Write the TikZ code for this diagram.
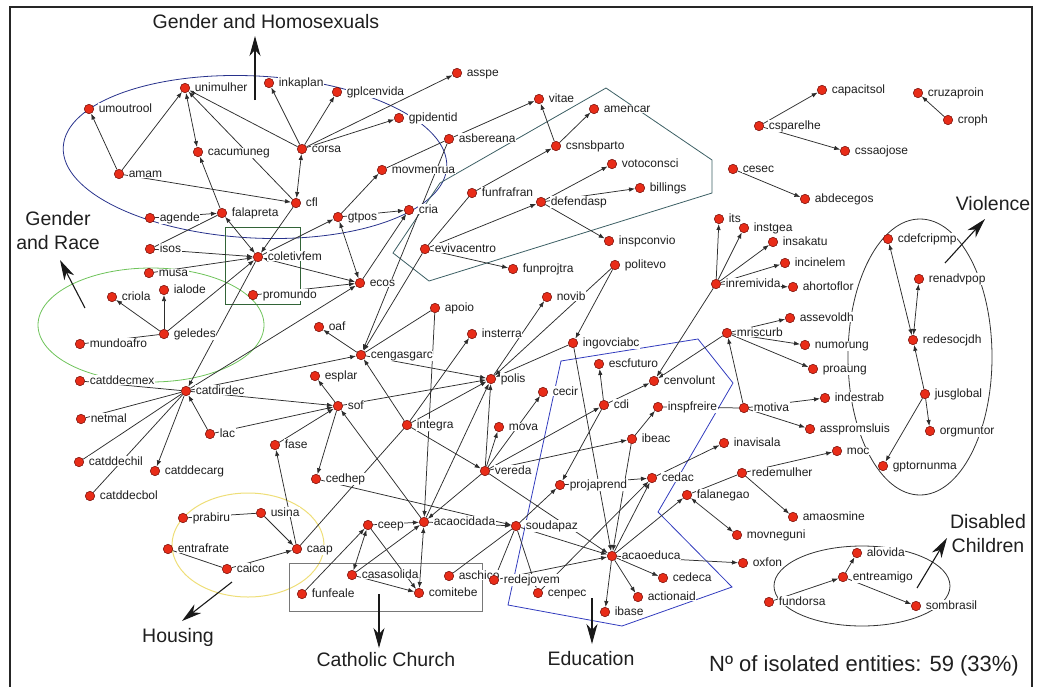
\documentclass[tikz,border=0pt]{standalone}
\usepackage{fontspec}
\setmainfont{Liberation Sans}
\usetikzlibrary{arrows.meta}
\pgfdeclarelayer{bg}
\pgfdeclarelayer{edges}
\pgfdeclarelayer{labels}
\pgfsetlayers{bg,edges,labels,main}
\definecolor{dotred}{RGB}{232,44,24}
\definecolor{dotrim}{RGB}{110,10,5}
\definecolor{edgecol}{RGB}{45,45,45}
\definecolor{ghblue}{RGB}{40,50,140}
\definecolor{edublue}{RGB}{50,60,190}
\definecolor{racegreen}{RGB}{110,195,90}
\definecolor{boxgreen}{RGB}{50,100,55}
\definecolor{houseyellow}{RGB}{238,222,120}
\definecolor{churchgray}{RGB}{120,120,120}
\definecolor{hexteal}{RGB}{60,95,100}
\definecolor{ringgray}{RGB}{50,50,50}
\tikzset{
  dot/.style={circle,fill=dotred,draw=dotrim,line width=0.5pt,minimum size=9.5pt,inner sep=0pt},
  lab/.style={anchor=base west,font=\fontsize{12}{12}\selectfont,inner sep=0.6pt,fill=white,text=black!88},
  ed/.style={draw=edgecol,line width=0.75pt},
  ar/.style={ed,-{Latex[length=6pt,width=4.5pt]}},
  bi/.style={ed,{Latex[length=6pt,width=4.5pt]}-{Latex[length=6pt,width=4.5pt]}},
  big/.style={draw=black!90,line width=1.1pt,-{Stealth[length=20pt,width=11pt,inset=6pt]}},
  cat/.style={font=\fontsize{19.5}{24}\selectfont,align=center,text=black!88,inner sep=0pt},
  ring/.style={line width=0.8pt},
}
\begin{document}
\begin{tikzpicture}[x=1pt,y=-1pt]
\useasboundingbox (0,0) rectangle (1039,686);
% frame
\draw[line width=1.2pt,black!85] (10,690) -- (10,7) -- (1032,7) -- (1032,690);

% dots
\foreach \n/\x/\y in {
umoutrool/89/109, unimulher/185/88, inkaplan/269/83, gplcenvida/337/92, asspe/457/73,
gpidentid/399/118, corsa/302/149, cacumuneg/198/152, amam/119/174, cfl/296/203,
agende/150/218, falapreta/222/213, asbereana/449/139, vitae/539/99, amencar/594/109,
csnsbparto/556/146, movmenrua/382/170, votoconsci/612/164, billings/640/188,
funfrafran/472/193, defendasp/541/202, gtpos/338/217, cria/409/210,
capacitsol/822/90, cruzaproin/918/93, croph/948/120, csparelhe/759/126,
cssaojose/845/151, cesec/733/169, abdecegos/805/199, its/719/219, instgea/744/228,
insakatu/773/242, incinelem/785/263, inremivida/716/284, ahortoflor/793/287,
cdefcripmp/888/239, renadvpop/919/279, redesocjdh/913/340, jusglobal/925/394,
orgmuntor/930/431, gptornunma/883/466, assevoldh/790/318, mriscurb/727/333,
numorung/805/345, proaung/813/369, motiva/744/408, indestrab/825/398,
asspromsluis/810/429, inavisala/724/443, moc/837/451, redemulher/742/473,
falanegao/687/495, amaosmine/793/517, movneguni/737/535, oxfon/743/563,
alovida/857/553, entreamigo/843/577, fundorsa/769/602, sombrasil/916/606,
coletivfem/258/257, isos/150/249, musa/149/273, promundo/253/295, ecos/360/283,
evivacentro/425/249, funprojtra/513/269, inspconvio/609/241, politevo/615/265,
novib/547/297, apoio/435/308, criola/112/297, ialode/164/290, geledes/164/334,
mundoafro/80/344, oaf/319/327, insterra/472/334, cengasgarc/361/355,
ingovciabc/573/343, escfuturo/599/364, polis/491/379, cecir/543/392,
cenvolunt/654/381, catddecmex/80/381, catdirdec/186/391, esplar/315/376,
sof/338/406, netmal/81/419, lac/210/434, integra/407/425, cdi/604/405,
inspfreire/658/407, mova/499/427, fase/275/445, ibeac/632/439,
catddechil/79/462, catddecarg/155/471, vereda/485/471, cedhep/316/479,
projaprend/560/485, cedac/652/478, catddecbol/90/496, prabiru/183/518,
usina/261/513, entrafrate/168/549, caico/227/569, caap/297/549, ceep/368/525,
acaocidada/424/522, soudapaz/516/526, acaoeduca/612/556, cedeca/663/578,
actionaid/638/597, ibase/605/612, casasolida/352/575, funfeale/302/594,
aschico/449/576, redejovem/494/580, comitebe/419/593, cenpec/538/593}
{ \node[dot] (\n) at (\x,\y) {};
  \begin{pgfonlayer}{labels}
  \node[lab] (\n-l) at ([xshift=9pt,yshift=-3pt]\n.center) {\n};
  \end{pgfonlayer} }

% group outlines
\begin{pgfonlayer}{bg}
\draw[ring,ghblue,rotate around={-3:(255,157)}] (255,157) ellipse [x radius=192,y radius=81];
\draw[ring,racegreen] (151,325) ellipse [x radius=113,y radius=57];
\draw[ring,boxgreen] (225,227) rectangle (300,304);
\draw[ring,houseyellow,line width=1pt] (248,545) ellipse [x radius=76,y radius=52];
\draw[ring,churchgray] (289,563) rectangle (482,611);
\draw[ring,ringgray] (920,357) ellipse [x radius=72,y radius=138];
\draw[ring,ringgray] (862,586) ellipse [x radius=88,y radius=40];
\draw[ring,hexteal] (606,88) -- (712,160) -- (712,193) -- (429,281) -- (393,253) -- (440,183) -- cycle;
\draw[ring,edublue] (561,361) -- (698,339) -- (733,383) -- (658,512) -- (732,587) -- (622,626) -- (508,605) -- cycle;
\end{pgfonlayer}

% connectors
\begin{pgfonlayer}{edges}
\foreach \s/\t in {
amam/umoutrool, amam/unimulher, corsa/unimulher, cfl/unimulher, corsa/inkaplan,
corsa/gplcenvida, amam/cfl, falapreta/cacumuneg, agende/falapreta, corsa/asspe,
corsa/gpidentid, asbereana/vitae, csnsbparto/vitae, csnsbparto/amencar,
funfrafran/csnsbparto, defendasp/votoconsci, defendasp/billings,
evivacentro/defendasp, defendasp/inspconvio, evivacentro/funprojtra,
evivacentro/cengasgarc, asbereana/cengasgarc, cfl/coletivfem, isos/coletivfem,
musa/coletivfem, geledes/coletivfem, coletivfem/catdirdec, promundo/ecos,
coletivfem/gtpos, gtpos/movmenrua, gtpos/cria, ecos/cria, catdirdec/ecos,
cengasgarc/oaf, apoio/acaocidada, catdirdec/cengasgarc, cengasgarc/polis,
integra/cengasgarc, integra/insterra, integra/vereda, vereda/acaoeduca,
sof/esplar, catdirdec/sof, lac/sof, fase/sof, lac/catdirdec, sof/polis,
sof/cedhep, acaocidada/sof, cedhep/soudapaz, vereda/acaocidada,
acaocidada/polis, vereda/polis, integra/polis, vereda/mova, vereda/cecir,
polis/novib, politevo/polis, politevo/ingovciabc, ingovciabc/polis,
ingovciabc/acaoeduca, cdi/escfuturo, cdi/cenvolunt, inremivida/cenvolunt,
mriscurb/cenvolunt, ibeac/inspfreire, vereda/ibeac, vereda/cdi, cdi/projaprend,
ibeac/acaoeduca, projaprend/cedac, cedac/inavisala, acaoeduca/cedac,
cenpec/cedac, acaoeduca/cedeca, acaoeduca/actionaid, acaoeduca/ibase,
acaoeduca/oxfon, soudapaz/acaoeduca, soudapaz/projaprend, soudapaz/cenpec,
redejovem/acaoeduca, acaoeduca/falanegao, redemulher/amaosmine, redemulher/moc,
mriscurb/numorung, mriscurb/proaung, mriscurb/assevoldh, motiva/mriscurb,
motiva/indestrab, motiva/asspromsluis, inremivida/its, inremivida/instgea,
inremivida/insakatu, inremivida/incinelem, inremivida/ahortoflor,
jusglobal/redesocjdh, jusglobal/orgmuntor, jusglobal/gptornunma,
csparelhe/capacitsol, csparelhe/cssaojose, croph/cruzaproin, cesec/abdecegos,
entreamigo/alovida, entreamigo/sombrasil, fundorsa/entreamigo, geledes/criola,
geledes/ialode, catdirdec/catddecarg, caap/fase, usina/caap, caico/caap,
casasolida/acaocidada, funfeale/ceep, ceep/acaocidada, casasolida/comitebe,
ceep/comitebe, acaocidada/soudapaz}
{ \draw[ar] (\s) -- (\t); }
\foreach \s/\t in {
unimulher/cacumuneg, cfl/corsa, falapreta/coletivfem, ecos/coletivfem,
gtpos/ecos, falanegao/movneguni, cdefcripmp/redesocjdh, renadvpop/redesocjdh,
casasolida/ceep, acaocidada/comitebe}
{ \draw[bi] (\s) -- (\t); }
\foreach \s/\t in {
movmenrua/asbereana, funfrafran/evivacentro, isos/falapreta, apoio/cengasgarc,
motiva/inspfreire, soudapaz/aschico, soudapaz/redejovem, redemulher/falanegao,
mundoafro/geledes, catddecmex/catdirdec, netmal/catdirdec, catdirdec/catddechil,
catdirdec/catddecbol, prabiru/usina, entrafrate/caico, caap/integra}
{ \draw[ed] (\s) -- (\t); }
\end{pgfonlayer}

% category labels and arrows
\node[cat] (catgh) at (266,22) {Gender and Homosexuals};
\coordinate (ghs) at (255,100); \coordinate (ght) at (255,36);
\draw[big] (ghs) -- (ght);
\node[cat] (catgr) at (58,231) {Gender\\and Race};
\coordinate (grs) at (85,308); \coordinate (grt) at (60,260);
\draw[big] (grs) -- (grt);
\node[cat] (catvi) at (993,204) {Violence};
\coordinate (vis) at (945,263); \coordinate (vit) at (985,219);
\draw[big] (vis) -- (vit);
\node[cat] (catho) at (178,637) {Housing};
\coordinate (hos) at (232,582); \coordinate (hot) at (182,621);
\draw[big] (hos) -- (hot);
\node[cat] (catcc) at (386,660) {Catholic Church};
\coordinate (ccs) at (379,594); \coordinate (cct) at (379,648);
\draw[big] (ccs) -- (cct);
\node[cat] (catedu) at (591,659) {Education};
\coordinate (eds) at (592,598); \coordinate (edt) at (592,644);
\draw[big] (eds) -- (edt);
\node[cat] (catdc) at (988,534) {Disabled\\Children};
\coordinate (dcs) at (917,588); \coordinate (dct) at (947,538);
\draw[big] (dcs) -- (dct);
\node[font=\fontsize{22}{26}\selectfont,text=black!88,inner sep=0pt] (isol) at (864,666) {Nº of isolated entities: 59 (33\%)};
\end{tikzpicture}
\end{document}
